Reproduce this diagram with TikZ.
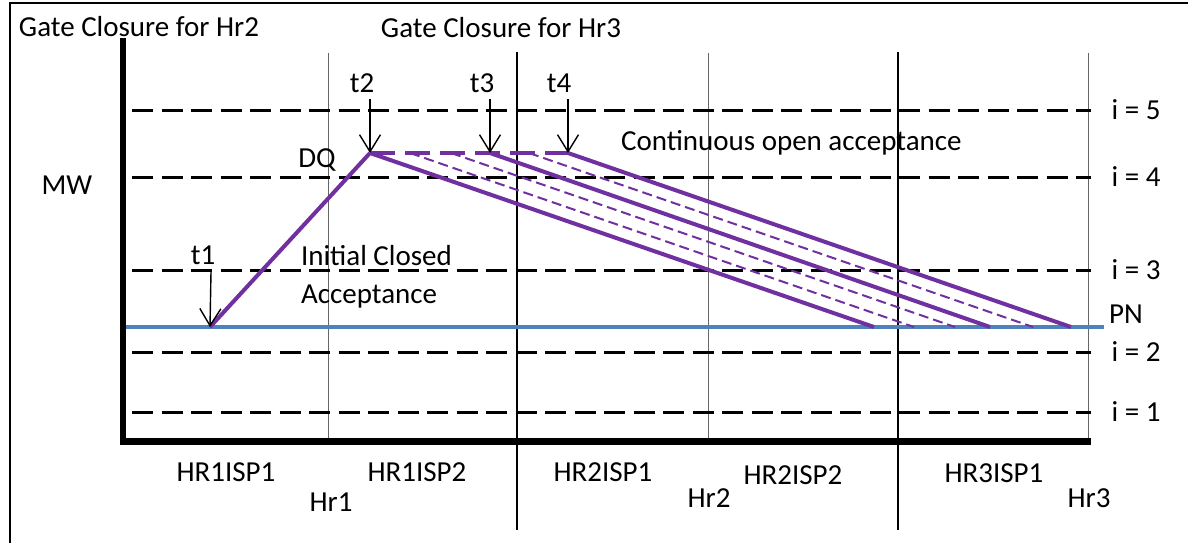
\documentclass[tikz,border=0pt]{standalone}
\usepackage{fontspec}
\setmainfont{Carlito}
\usetikzlibrary{arrows.meta}
\definecolor{accpurple}{RGB}{112,48,160}
\definecolor{pnblue}{RGB}{79,129,189}

\begin{document}
\begin{tikzpicture}[x=0.5pt,y=-0.5pt,font=\fontsize{14.5}{17}\selectfont]
    \tikzstyle{ilevel}=[black,line width=1.5pt,dash pattern=on 10.5pt off 4.25pt]
    \tikzstyle{hrline}=[black,line width=1.2pt]
    \tikzstyle{ispline}=[black!60,line width=0.5pt]
    \tikzstyle{acc}=[accpurple,line width=2pt]
    \tikzstyle{accdash}=[accpurple,line width=1pt,dash pattern=on 5pt off 2.5pt]
    \tikzstyle{tarrow}=[black,line width=0.7pt,-{Straight Barb[length=8.5pt,width=10.5pt]}]
    \useasboundingbox (0,0) rectangle (1188,542);
    \draw[line width=1pt] (10,560) -- (10,3) -- (1200,3);
    \node (gc2) at (139,27) {Gate Closure for Hr2};
    \node (gc3) at (501,28) {Gate Closure for Hr3};
    \node (mw) at (67,185) {MW};
    \foreach \x in {328,708,1088}
        \draw[ispline] (\x,53) -- (\x,441);
    \foreach \x in {517,898}
        \draw[hrline] (\x,52) -- (\x,530);
    \foreach \i/\y in {1/412,2/352,3/270,4/177,5/110}{
        \draw[ilevel] (132,\y) -- (1091,\y);
        \node (i\i) at (1136,\y) {i = \i};
    }
    \draw[pnblue,line width=1.8pt] (122,327) -- (1104,327);
    \node (pn) at (1126,314) {PN};
    \draw[line width=3.2pt] (123,38) -- (123,445);
    \draw[line width=3.5pt] (120,441.5) -- (1091,441.5);
    \coordinate (a1) at (210,327);
    \coordinate (a2) at (370,153);
    \coordinate (a3) at (490,153);
    \coordinate (a4) at (568,153);
    \coordinate (b2) at (874,327);
    \coordinate (b3) at (990,327);
    \coordinate (b4) at (1071,327);
    \draw[acc] (a1) -- (a2);
    \draw[acc,dash pattern=on 12.5pt off 5pt] (a2) -- (a4);
    \draw[acc] (a2) -- (b2);
    \draw[acc] (a3) -- (b3);
    \draw[acc] (a4) -- (b4);
    \draw[accdash] (410,153) -- (914,327);
    \draw[accdash] (451,153) -- (955,327);
    \draw[accdash] (529,153) -- (1033,327);
    \node (t1) at (203,255) {t1};
    \node (t2) at (362,83) {t2};
    \node (t3) at (482,83) {t3};
    \node (t4) at (559,83) {t4};
    \draw[tarrow] (211,272) -- (a1);
    \draw[tarrow] (370,99) -- (a2);
    \draw[tarrow] (490,99) -- (a3);
    \draw[tarrow] (568,99) -- (a4);
    \node (dq) at (317,160) {DQ};
    \node[anchor=west] (coa) at (614,143) {Continuous open acceptance};
    \node[anchor=west] (ica) at (294,256) {Initial Closed};
    \node[anchor=west] (icb) at (294,297) {Acceptance};
    \node (s11) at (226,472) {HR1ISP1};
    \node (s12) at (417,472) {HR1ISP2};
    \node (s21) at (603,472) {HR2ISP1};
    \node (s22) at (793,475) {HR2ISP2};
    \node (s31) at (994,473) {HR3ISP1};
    \node (h1) at (331,502) {Hr1};
    \node (h2) at (709,498) {Hr2};
    \node (h3) at (1089,498) {Hr3};
\end{tikzpicture}
\end{document}
